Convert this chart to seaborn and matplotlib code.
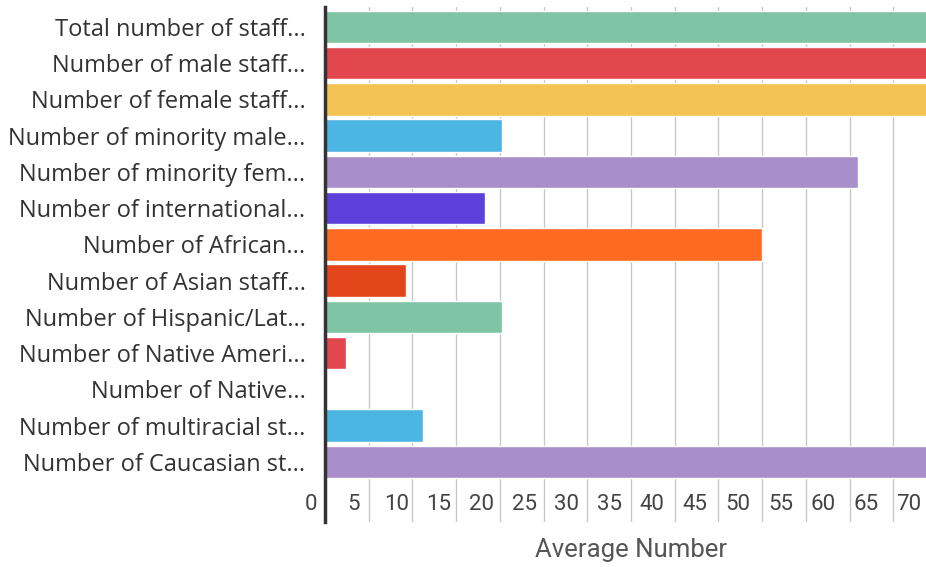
import matplotlib
matplotlib.use("Agg")
import matplotlib.pyplot as plt
import matplotlib.transforms as mtransforms
import seaborn as sns
import pandas as pd

categories = [
    "Total number of staff...",
    "Number of male staff...",
    "Number of female staff...",
    "Number of minority male...",
    "Number of minority fem...",
    "Number of international...",
    "Number of African...",
    "Number of Asian staff...",
    "Number of Hispanic/Lat...",
    "Number of Native Ameri...",
    "Number of Native...",
    "Number of multiracial st...",
    "Number of Caucasian st...",
]
values = [180, 80, 100, 20.2, 61.0, 18.3, 50.0, 9.3, 20.2, 2.4, 0, 11.2, 85]
palette_cycle = ["#7fc4a4", "#e2474f", "#f3c453", "#4cb6e2", "#a88fcc",
                 "#5b40dc", "#ff6a22", "#e2461a"]
xticks = list(range(0, 75, 5))
x_title = "Average Number"

colors = [palette_cycle[i % len(palette_cycle)] for i in range(len(categories))]
df = pd.DataFrame({"category": categories, "value": values})

sns.set_style("white")
fig = plt.figure(figsize=(9.26, 5.67), dpi=100)
W, H = 926, 567
ax = fig.add_axes([325 / W, 1 - 522 / H, (937 - 325) / W, (522 - 7) / H])

sns.barplot(data=df, y="category", x="value", hue="category", palette=colors,
            orient="h", width=0.9, legend=False, ax=ax, saturation=1, zorder=3)

ax.set_xlim(0, 70)
ax.set_ylim(13.66, -0.55)
ax.set_xticks(xticks)
ax.set_xticklabels([str(t) for t in xticks])
ax.grid(axis="x", color="#c8c8c8", linewidth=1, zorder=0)
ax.grid(axis="y", visible=False)
ax.set_axisbelow(True)

for s in ["top", "right", "bottom"]:
    ax.spines[s].set_visible(False)
ax.spines["left"].set_color("#333333")
ax.spines["left"].set_linewidth(2.5)
ax.spines["left"].set_zorder(5)

ax.tick_params(axis="y", length=0, pad=14, labelsize=17, labelcolor="#333333")
for lab in ax.get_yticklabels():
    lab.set_fontfamily(["Open Sans", "DejaVu Sans"])

ax.tick_params(axis="x", length=0, pad=0, labelsize=16, labelcolor="#444444")
for t, lab in zip(xticks, ax.get_xticklabels()):
    dx = -14 - 0.21 * t
    offset = mtransforms.ScaledTranslation(dx / 100, 28 / 100, fig.dpi_scale_trans)
    lab.set_fontfamily(["Roboto", "DejaVu Sans"])
    lab.set_transform(lab.get_transform() + offset)

ax.set_ylabel("")
ax.set_xlabel("")
fig.text(631 / W, 1 - 550 / H, x_title, ha="center", va="center",
         fontsize=18.5, color="#555555", family=["Roboto", "DejaVu Sans"])

fig.savefig("out.png", dpi=100)
